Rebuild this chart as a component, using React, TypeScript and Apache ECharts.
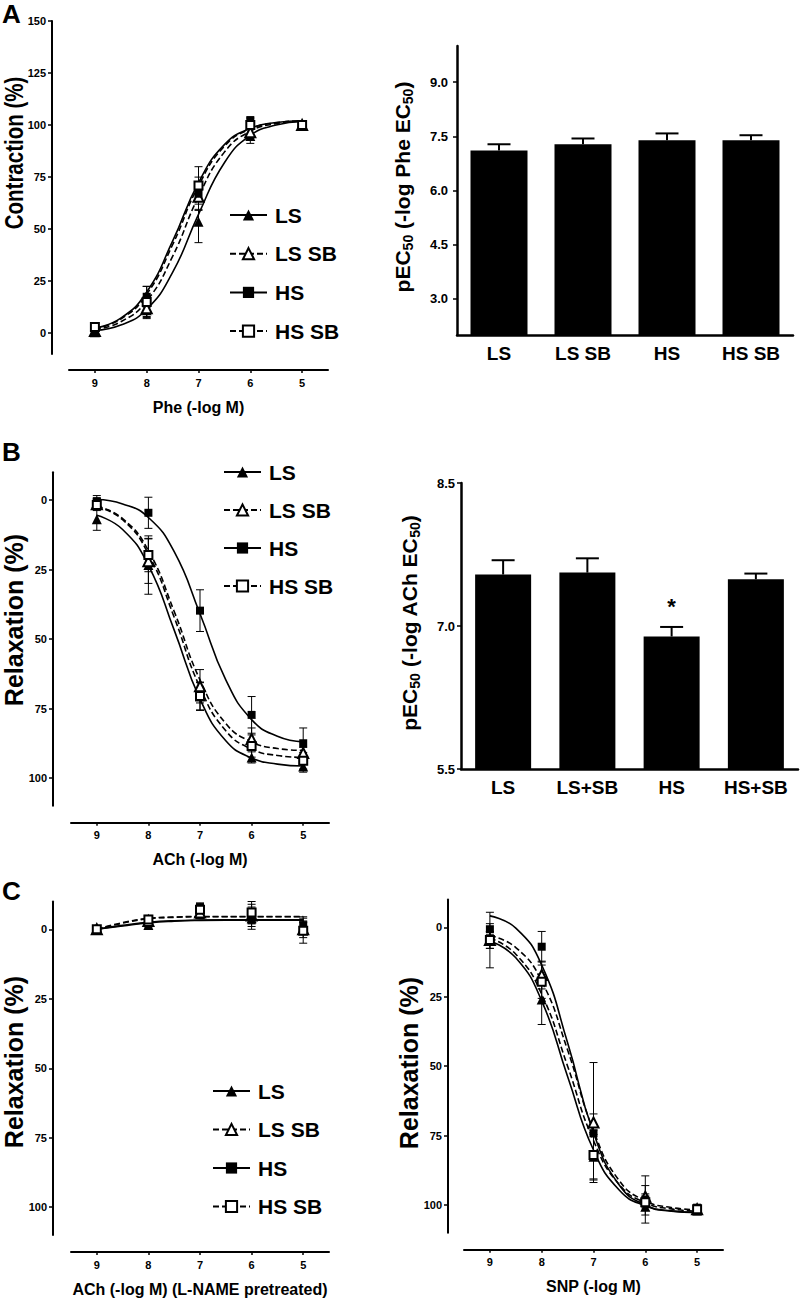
import React, { useEffect, useRef } from 'react';
import * as echarts from 'echarts';

const FONT = '"Liberation Sans", Arial, Helvetica, sans-serif';

// ---------- shared ----------
const groups = ['LS', 'LS SB', 'HS', 'HS SB'];
const doseX = [9, 8, 7, 6, 5];
const curveX = [9, 8.5, 8, 7.5, 7, 6.5, 6, 5.5, 5];

// ---------- Panel A left: Phe contraction (%) ----------
const pheLS = [0.5, 11, 53.5, 94.7, 100];
const pheLSSB = [1, 12, 65.5, 96.5, 100];
const pheHS = [0.4, 17.5, 67, 102.4, 100];
const pheHSSB = [3, 15, 71, 100, 100];
const pheSemLS = [0.8, 4, 10, 3.5, 0.5];
const pheSemLSSB = [0.8, 4, 6, 3, 0.5];
const pheSemHS = [0.8, 5, 8, 1, 0.5];
const pheSemHSSB = [0.8, 7.5, 9, 2, 0.5];
const pheFitLS = [1.3, 3.9, 11.5, 29.2, 57.1, 81.9, 95.0, 100.0, 101.7];
const pheFitLSSB = [1.8, 5.5, 15.5, 36.9, 65.6, 87.0, 97.0, 100.7, 101.9];
const pheFitHS = [2.4, 7.2, 19.8, 44.2, 72.3, 90.6, 98.4, 101.2, 102.1];
const pheFitHSSB = [2.2, 6.8, 18.7, 42.5, 70.8, 89.8, 98.1, 101.1, 102.0];

// ---------- Panel A right: pEC50 Phe ----------
const pheBarCats = ['LS', 'LS SB', 'HS', 'HS SB'];
const pheBarMean = [7.11, 7.28, 7.39, 7.39];
const pheBarSem = [0.17, 0.16, 0.19, 0.14];
const pheBarTicks = [3, 4.5, 6, 7.5, 9];

// ---------- Panel B left: ACh relaxation (%) ----------
const achLS = [6.9, 23.4, 70.7, 92.6, 95.9];
const achLSSB = [1.5, 22, 67, 86, 91];
const achHS = [0.4, 4.6, 39.8, 77.3, 87.5];
const achHSSB = [1.8, 19.8, 70.5, 88.5, 93.8];
const achSemLS = [4, 10.5, 5, 2, 2];
const achSemLSSB = [2, 8, 6, 4, 2];
const achSemHS = [2, 5.6, 7.5, 6.6, 5.5];
const achSemHSSB = [2, 6, 5, 4, 3];
const achFitLS = [5.5, 10.6, 23.5, 46.8, 71.6, 86.6, 92.8, 95.0, 95.7];
const achFitLSSB = [2.2, 6.7, 18.2, 40.1, 64.7, 80.4, 87.0, 89.4, 90.1];
const achFitHS = [-0.2, 1.4, 6.3, 18.6, 40.9, 64.7, 79.0, 85.0, 87.0];
const achFitHSSB = [2.4, 7.1, 19.4, 42.2, 67.4, 83.0, 89.6, 91.9, 92.6];

// ---------- Panel B right: pEC50 ACh ----------
const achBarCats = ['LS', 'LS+SB', 'HS', 'HS+SB'];
const achBarMean = [7.54, 7.56, 6.89, 7.49];
const achBarSem = [0.15, 0.15, 0.1, 0.06];
const achBarSig = ['', '', '*', ''];
const achBarTicks = [5.5, 7, 8.5];

// ---------- Panel C left: ACh (L-NAME pretreated) ----------
const lnLS = [0, -1.5, -5.5, -4, -0.5];
const lnLSSB = [0, -3, -6, -5, 0];
const lnHS = [0, -3.6, -8, -4.5, -1.5];
const lnHSSB = [0, -3.5, -7, -6, 0.5];
const lnSemLS = [0.5, 1, 1, 3, 2];
const lnSemLSSB = [0.5, 1.5, 1, 3, 3];
const lnSemHS = [0.5, 1, 1.5, 4.5, 3];
const lnSemHSSB = [0.5, 1.5, 1, 4, 4.5];
const lnFitLS = [0, -1.2, -2.3, -2.9, -3.2, -3.3, -3.3, -3.3, -3.3];
const lnFitLSSB = [0, -2.2, -3.8, -4.3, -4.5, -4.5, -4.5, -4.5, -4.5];
const lnFitHS = [0, -1.4, -2.5, -3.1, -3.3, -3.4, -3.4, -3.4, -3.4];
const lnFitHSSB = [0, -2.4, -3.9, -4.4, -4.6, -4.6, -4.6, -4.6, -4.6];

// ---------- Panel C right: SNP relaxation (%) ----------
const snpLS = [4.6, 26, 82.6, 100.6, 102];
const snpLSSB = [4.6, 17.2, 70.3, 97, 101.5];
const snpHS = [0.7, 7, 74.2, 98, 101.2];
const snpHSSB = [4.6, 19.6, 82, 99, 101.5];
const snpSemLS = [3, 9, 8, 3, 1.5];
const snpSemLSSB = [3, 5, 21.6, 4, 1.5];
const snpSemHS = [2, 5.5, 7, 8.5, 1.5];
const snpSemHSSB = [10, 6, 9, 3, 1.5];
const snpFitLS = [4.9, 11.0, 26.5, 53.7, 80.2, 94.7, 100.3, 102.2, 102.7];
const snpFitLSSB = [3.0, 7.3, 19.4, 44.2, 73.2, 91.3, 98.5, 100.9, 101.7];
const snpFitHS = [-4.1, 0.3, 13.6, 41.6, 74.0, 92.9, 100, 102.1, 102.7];
const snpFitHSSB = [3.9, 9.7, 24.1, 50.0, 76.8, 92.7, 99.2, 101.4, 102.2];

const contractionTicks = [0, 25, 50, 75, 100, 125, 150];
const relaxTicks = [0, 25, 50, 75, 100];

const symbolOf = ['triangle', 'emptyTriangle', 'rect', 'emptyRect'];
const sizeOf = [10, 10, 8, 8];
const dashOf: any[] = ['solid', [6, 3], 'solid', [6, 3]];

const errRender = (capHalf: number, lw: number, upOnly: boolean, sig?: string[]) => (params: any, api: any) => {
  const x = api.value(0);
  const y = api.value(1);
  const e = api.value(2);
  const p1 = api.coord([x, y + e]);
  const p0 = api.coord([x, upOnly ? y : y - e]);
  const st = { stroke: '#000', lineWidth: lw };
  const children: any[] = [
    { type: 'line', shape: { x1: p0[0], y1: p0[1], x2: p1[0], y2: p1[1] }, style: st },
    { type: 'line', shape: { x1: p1[0] - capHalf, y1: p1[1], x2: p1[0] + capHalf, y2: p1[1] }, style: st },
  ];
  if (!upOnly) {
    children.push({ type: 'line', shape: { x1: p0[0] - capHalf, y1: p0[1], x2: p0[0] + capHalf, y2: p0[1] }, style: st });
  }
  if (sig && sig[params.dataIndex]) {
    children.push({
      type: 'text', x: p1[0], y: p1[1] - 20,
      style: { text: sig[params.dataIndex], fontSize: 22, fontWeight: 'bold', fontFamily: FONT, fill: '#000', align: 'center', verticalAlign: 'middle' },
    });
  }
  return { type: 'group', children };
};

function curvePanel(g: number, fits: number[][], means: number[][], sems: number[][]) {
  const lines = groups.map((name, i) => ({
    type: 'line', name, xAxisIndex: g, yAxisIndex: g,
    data: curveX.map((x, k) => [x, fits[i][k]]),
    smooth: 0.5, symbol: symbolOf[i], symbolSize: sizeOf[i], showSymbol: false,
    lineStyle: { color: '#000', width: 1.6, type: dashOf[i] }, itemStyle: { color: '#000', opacity: 1 },
    z: 2, silent: true, emphasis: { disabled: true },
  }));
  const errs = groups.map((_n, i) => ({
    type: 'custom', xAxisIndex: g, yAxisIndex: g, silent: true, z: 3,
    data: doseX.map((x, k) => [x, means[i][k], sems[i][k]]),
    encode: { x: 0, y: 1 },
    renderItem: errRender(4, 1, false),
  }));
  const pts = groups.map((name, i) => ({
    type: 'scatter', name, xAxisIndex: g, yAxisIndex: g,
    symbol: symbolOf[i], symbolSize: sizeOf[i],
    data: doseX.map((x, k) => [x, means[i][k]]),
    itemStyle: { color: '#000', opacity: 1 }, z: 4, silent: true, emphasis: { disabled: true },
  }));
  return { lines, errs, pts };
}

function curveXAxis(gridIndex: number, offset: number, name: string) {
  return {
    gridIndex, type: 'value', min: 4.5, max: 9.5, inverse: true, position: 'bottom', offset,
    axisLine: { show: true, onZero: false, lineStyle: { color: '#000', width: 2 } },
    axisTick: { show: true, length: 3, customValues: doseX, lineStyle: { color: '#000', width: 1.5 } },
    axisLabel: { show: true, customValues: doseX, margin: 7, fontSize: 11, fontWeight: 'bold', color: '#000', fontFamily: FONT },
    splitLine: { show: false },
    name, nameLocation: 'middle', nameGap: 29,
    nameTextStyle: { fontSize: 16, fontWeight: 'bold', color: '#000', fontFamily: FONT },
  };
}

function curveYAxis(gridIndex: number, offset: number, min: number, max: number, ticks: number[], inverse: boolean) {
  return {
    gridIndex, type: 'value', min, max, inverse, position: 'left', offset,
    axisLine: { show: true, onZero: false, lineStyle: { color: '#000', width: 2 } },
    axisTick: { show: true, length: 4, customValues: ticks, lineStyle: { color: '#000', width: 1.5 } },
    axisLabel: { show: true, customValues: ticks, margin: 6, fontSize: 11, fontWeight: 'bold', color: '#000', fontFamily: FONT },
    splitLine: { show: false },
  };
}

function barXAxis(gridIndex: number, cats: string[]) {
  return {
    gridIndex, type: 'category', data: cats, position: 'bottom',
    axisLine: { show: true, onZero: false, lineStyle: { color: '#000', width: 2.5 } },
    axisTick: { show: false },
    axisLabel: { interval: 0, margin: 9, fontSize: 19, fontWeight: 'bold', color: '#000', fontFamily: FONT },
    splitLine: { show: false },
  };
}

function barYAxis(gridIndex: number, min: number, max: number, ticks: number[], margin: number) {
  return {
    gridIndex, type: 'value', min, max, position: 'left',
    axisLine: { show: true, onZero: false, lineStyle: { color: '#000', width: 2.5 } },
    axisTick: { show: true, length: 4, customValues: ticks, lineStyle: { color: '#000', width: 1.5 } },
    axisLabel: {
      show: true, customValues: ticks, margin, fontSize: 13, fontWeight: 'bold', color: '#000', fontFamily: FONT,
      formatter: (v: number) => v.toFixed(1),
    },
    splitLine: { show: false },
  };
}

function legendAt(left: number, top: number, gap: number) {
  return {
    data: groups, orient: 'vertical', left, top, padding: 0,
    itemWidth: 37, itemHeight: 14, itemGap: gap,
    selectedMode: false,
    textStyle: { fontSize: 21, fontWeight: 'bold', color: '#000', fontFamily: FONT, lineHeight: 22, padding: [0, 0, 0, 3] },
  };
}

function yTitle(x: number, y: number, text: string, fontSize: number, scaleX = 1) {
  return {
    type: 'text', x, y, rotation: Math.PI / 2, scaleX,
    style: { text, fontSize, fontWeight: 'bold', fontFamily: FONT, fill: '#000', align: 'center', verticalAlign: 'middle' },
  };
}

function pecTitle(x: number, y: number, drug: string) {
  return {
    type: 'text', x, y, rotation: Math.PI / 2,
    style: {
      text: `{m|pEC}{s|50}{m| (-log ${drug} EC}{s|50}{m|)}`,
      fontSize: 21, fontWeight: 'bold', fontFamily: FONT, fill: '#000', align: 'center', verticalAlign: 'middle',
      rich: {
        m: { fontSize: 21, fontWeight: 'bold', fontFamily: FONT, fill: '#000', lineHeight: 26 },
        s: { fontSize: 14, fontWeight: 'bold', fontFamily: FONT, fill: '#000', lineHeight: 14, verticalAlign: 'bottom' },
      },
    },
  };
}

function letter(y: number, text: string) {
  return {
    type: 'text', x: 2, y,
    style: { text, fontSize: 26, fontWeight: 'bold', fontFamily: FONT, fill: '#000', align: 'left', verticalAlign: 'middle' },
  };
}

function buildOption() {
  const A = curvePanel(0, [pheFitLS, pheFitLSSB, pheFitHS, pheFitHSSB], [pheLS, pheLSSB, pheHS, pheHSSB], [pheSemLS, pheSemLSSB, pheSemHS, pheSemHSSB]);
  const B = curvePanel(2, [achFitLS, achFitLSSB, achFitHS, achFitHSSB], [achLS, achLSSB, achHS, achHSSB], [achSemLS, achSemLSSB, achSemHS, achSemHSSB]);
  const C = curvePanel(4, [lnFitLS, lnFitLSSB, lnFitHS, lnFitHSSB], [lnLS, lnLSSB, lnHS, lnHSSB], [lnSemLS, lnSemLSSB, lnSemHS, lnSemHSSB]);
  const D = curvePanel(5, [snpFitLS, snpFitLSSB, snpFitHS, snpFitHSSB], [snpLS, snpLSSB, snpHS, snpHSSB], [snpSemLS, snpSemLSSB, snpSemHS, snpSemHSSB]);

  const bars = [
    { type: 'bar', xAxisIndex: 1, yAxisIndex: 1, data: pheBarMean, barWidth: 57, itemStyle: { color: '#000' }, silent: true, z: 2 },
    {
      type: 'custom', xAxisIndex: 1, yAxisIndex: 1, silent: true, z: 3,
      data: pheBarMean.map((m, i) => [i, m, pheBarSem[i]]), encode: { x: 0, y: 1 },
      renderItem: errRender(11.5, 2, true),
    },
    { type: 'bar', xAxisIndex: 3, yAxisIndex: 3, data: achBarMean, barWidth: 56, itemStyle: { color: '#000' }, silent: true, z: 2 },
    {
      type: 'custom', xAxisIndex: 3, yAxisIndex: 3, silent: true, z: 3,
      data: achBarMean.map((m, i) => [i, m, achBarSem[i]]), encode: { x: 0, y: 1 },
      renderItem: errRender(11.5, 2, true, achBarSig),
    },
  ];

  return {
    animation: false,
    backgroundColor: '#fff',
    textStyle: { fontFamily: FONT },
    grid: [
      { left: 69, top: 21, width: 259, height: 333 },
      { left: 457, top: 46, width: 336, height: 289 },
      { left: 71, top: 472.2, width: 258, height: 333.6 },
      { left: 461, top: 483, width: 337, height: 286 },
      { left: 71, top: 901.5, width: 258, height: 333.6 },
      { left: 464, top: 899.5, width: 259, height: 333.3 },
    ],
    xAxis: [
      curveXAxis(0, 16, 'Phe (-log M)'),
      barXAxis(1, pheBarCats),
      curveXAxis(2, 17, 'ACh (-log M)'),
      barXAxis(3, achBarCats),
      curveXAxis(4, 17, 'ACh (-log M) (L-NAME pretreated)'),
      curveXAxis(5, 17, 'SNP (-log M)'),
    ],
    yAxis: [
      curveYAxis(0, 17, -10, 150, contractionTicks, false),
      barYAxis(1, 2, 10, pheBarTicks, 9),
      curveYAxis(2, 18, -10, 110, relaxTicks, true),
      barYAxis(3, 5.5, 8.5, achBarTicks, 6),
      curveYAxis(4, 18, -10, 110, relaxTicks, true),
      curveYAxis(5, 16, -10, 110, relaxTicks, true),
    ],
    legend: [legendAt(229, 204, 16.7), legendAt(223, 461, 16), legendAt(212, 1080, 16.5)],
    graphic: [
      letter(14, 'A'),
      letter(452, 'B'),
      letter(891, 'C'),
      yTitle(14, 153, 'Contraction (%)', 25, 0.82),
      pecTitle(402, 187, 'Phe'),
      yTitle(14, 620, 'Relaxation (%)', 25),
      pecTitle(409, 623, 'ACh'),
      yTitle(14, 1062, 'Relaxation (%)', 25),
      yTitle(409, 1063, 'Relaxation (%)', 25),
    ],
    series: [
      ...A.lines, ...B.lines, ...C.lines, ...D.lines,
      ...bars,
      ...A.errs, ...B.errs, ...C.errs, ...D.errs,
      ...A.pts, ...B.pts, ...C.pts, ...D.pts,
    ],
  };
}

export default function App() {
  const ref = useRef<HTMLDivElement>(null);
  useEffect(() => {
    if (!ref.current) return;
    const chart = echarts.init(ref.current, null, { renderer: 'svg' });
    chart.setOption(buildOption() as any);
    return () => chart.dispose();
  }, []);
  return (
    <div
      ref={ref}
      style={{ position: 'absolute', left: 0, top: 0, width: 800, height: 1298, background: '#fff' }}
    />
  );
}
